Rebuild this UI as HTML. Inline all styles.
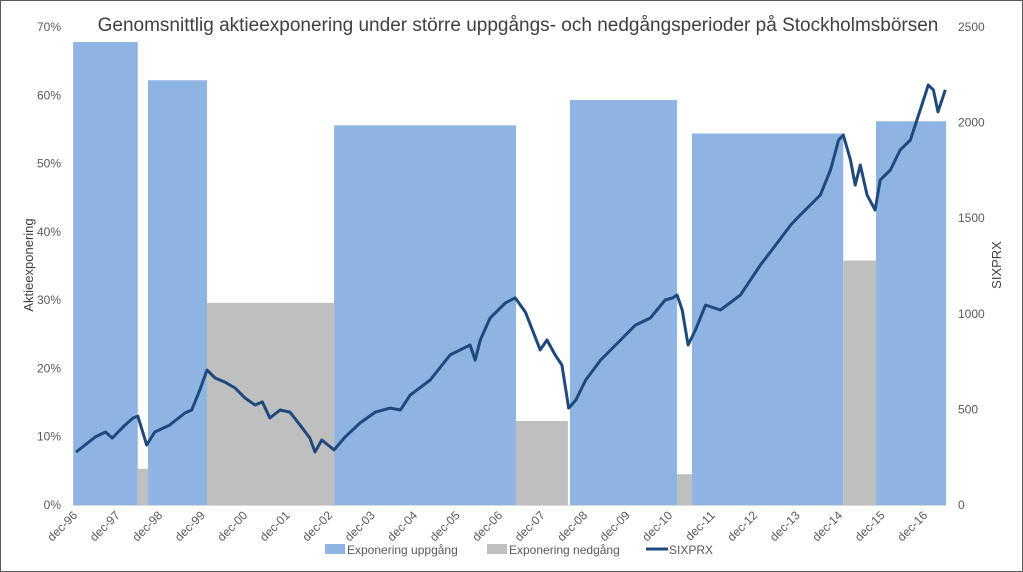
<!DOCTYPE html>
<html><head><meta charset="utf-8"><style>
html,body{margin:0;padding:0;background:#fff}
svg{display:block;font-family:"Liberation Sans",sans-serif}
</style></head><body>
<svg id="chart" width="1023" height="572">
<rect x="0.5" y="0.5" width="1022" height="571" fill="#fff" stroke="#595959"/>
<text x="518" y="31" text-anchor="middle" font-size="19" fill="#404040">Genomsnittlig aktieexponering under större uppgångs- och nedgångsperioder på Stockholmsbörsen</text>
<g id="bars"></g>
<line x1="73" y1="505.5" x2="946" y2="505.5" stroke="#d9d9d9"/>
<g id="line"></g>
<g id="axes"></g>
<text transform="translate(33,265) rotate(-90)" text-anchor="middle" font-size="13" fill="#404040">Aktieexponering</text>
<text transform="translate(1001,265) rotate(-90)" text-anchor="middle" font-size="13" fill="#404040">SIXPRX</text>
<g>
<rect x="325" y="544" width="20" height="10" fill="#8EB4E3"/>
<text x="347" y="554" font-size="12" fill="#595959">Exponering uppgång</text>
<rect x="487" y="544" width="20" height="10" fill="#BFBFBF"/>
<text x="509" y="554" font-size="12" fill="#595959">Exponering nedgång</text>
<line x1="646" y1="549" x2="668" y2="549" stroke="#1F497D" stroke-width="3"/>
<text x="669" y="554" font-size="12" fill="#595959">SIXPRX</text>
</g>
</svg>
<script>
const periodStart=[1996.85,1998.37,1998.61,2000.0,2002.99,2007.27,2008.54,2011.06,2011.41,2014.97,2015.74];
const periodEnd=[1998.37,1998.61,2000.0,2002.99,2007.27,2008.49,2011.06,2011.41,2014.97,2015.74,2017.39];
const exposure=[67.8,5.3,62.2,29.6,55.6,12.3,59.3,4.5,54.4,35.8,56.2];
const periodType=["up","down","up","down","up","down","up","down","up","down","up"];
const dates=[1996.92,1997.37,1997.61,1997.77,1998.07,1998.26,1998.37,1998.58,1998.77,1999.12,1999.48,1999.64,1999.83,2000.0,2000.19,2000.42,2000.66,2000.89,2001.13,2001.30,2001.48,2001.72,2001.95,2002.19,2002.42,2002.54,2002.70,2002.99,2003.25,2003.60,2003.96,2004.31,2004.55,2004.78,2005.25,2005.72,2006.19,2006.31,2006.43,2006.66,2007.02,2007.25,2007.49,2007.61,2007.84,2008.00,2008.19,2008.35,2008.51,2008.68,2008.91,2009.26,2009.73,2010.08,2010.43,2010.78,2010.95,2011.06,2011.18,2011.32,2011.49,2011.73,2012.08,2012.55,2013.02,2013.38,2013.73,2013.96,2014.43,2014.67,2014.86,2014.97,2015.14,2015.25,2015.37,2015.53,2015.72,2015.84,2016.08,2016.31,2016.55,2016.78,2016.97,2017.09,2017.20,2017.37];
const sixprx=[277,356,382,350,418,455,465,314,382,418,481,497,601,706,664,643,612,560,523,539,455,497,486,418,350,277,340,288,356,429,486,507,497,575,654,785,837,758,863,978,1057,1083,1009,941,811,863,785,732,507,549,654,758,863,941,978,1072,1083,1098,1020,837,915,1046,1020,1098,1255,1360,1464,1517,1621,1752,1909,1935,1804,1673,1778,1621,1543,1700,1752,1857,1909,2066,2197,2171,2056,2171];
const leftTicks=["0%","10%","20%","30%","40%","50%","60%","70%"];
const leftTickVals=[0,10,20,30,40,50,60,70];
const rightTickVals=[0,500,1000,1500,2000,2500];
const xTickLabels=["dec-96","dec-97","dec-98","dec-99","dec-00","dec-01","dec-02","dec-03","dec-04","dec-05","dec-06","dec-07","dec-08","dec-09","dec-10","dec-11","dec-12","dec-13","dec-14","dec-15","dec-16"];
const xTickYears=[1996.92,1997.92,1998.92,1999.92,2000.92,2001.92,2002.92,2003.92,2004.92,2005.92,2006.92,2007.92,2008.92,2009.92,2010.92,2011.92,2012.92,2013.92,2014.92,2015.92,2016.92];

const NS="http://www.w3.org/2000/svg";
const x=t=>76+(t-1996.917)*42.5;
const yL=v=>505-v*(478/70);
const yR=v=>505-v*(478/2500);
const bars=document.getElementById('bars');
exposure.forEach((v,i)=>{
  const r=document.createElementNS(NS,'rect');
  r.setAttribute('x',x(periodStart[i]));
  r.setAttribute('width',x(periodEnd[i])-x(periodStart[i]));
  r.setAttribute('y',yL(v));
  r.setAttribute('height',yL(0)-yL(v));
  r.setAttribute('fill',periodType[i]==='up'?'#8EB4E3':'#BFBFBF');
  
  
  bars.appendChild(r);
});
const lineG=document.getElementById('line');
const p=document.createElementNS(NS,'path');
p.setAttribute('d',dates.map((d,i)=>(i?'L':'M')+x(d).toFixed(1)+','+yR(sixprx[i]).toFixed(1)).join(''));
p.setAttribute('fill','none');p.setAttribute('stroke','#1F497D');p.setAttribute('stroke-width','3');p.setAttribute('stroke-linejoin','round');


lineG.appendChild(p);
const axes=document.getElementById('axes');
leftTicks.forEach((l,i)=>{
  const t=document.createElementNS(NS,'text');
  t.setAttribute('x',61);t.setAttribute('y',yL(leftTickVals[i])+4);
  t.setAttribute('text-anchor','end');t.setAttribute('font-size','12');t.setAttribute('fill','#595959');
  t.textContent=l;
  
  
  axes.appendChild(t);
});
rightTickVals.forEach(v=>{
  const t=document.createElementNS(NS,'text');
  t.setAttribute('x',958);t.setAttribute('y',yR(v)+4);
  t.setAttribute('font-size','12');t.setAttribute('fill','#595959');
  t.textContent=v;
  
  
  axes.appendChild(t);
});
xTickLabels.forEach((l,i)=>{
  const t=document.createElementNS(NS,'text');
  const px=x(xTickYears[i])+2;
  t.setAttribute('transform','translate('+px+',516) rotate(-45)');
  t.setAttribute('text-anchor','end');t.setAttribute('font-size','12');t.setAttribute('fill','#595959');
  t.textContent=l;
  
  
  axes.appendChild(t);
});
</script>
</body></html>
